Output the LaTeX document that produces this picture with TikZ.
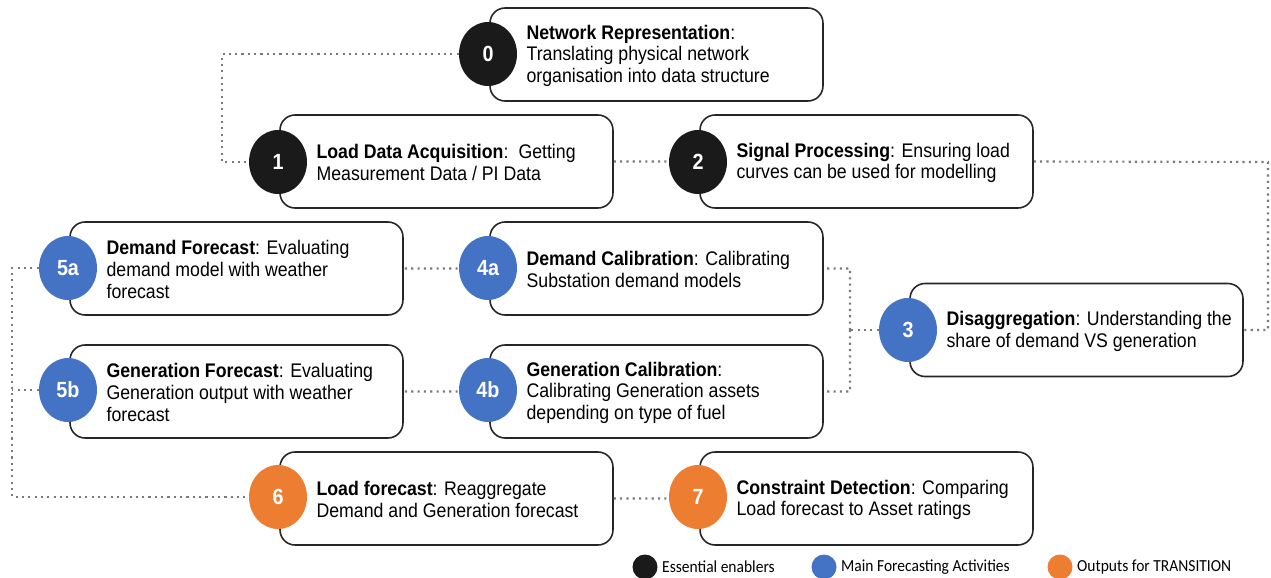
\documentclass[tikz,border=0pt]{standalone}
\usepackage{fontspec}
\setmainfont[FakeStretch=0.9]{Liberation Sans}
\newfontfamily\legendfont[FakeStretch=0.92]{Carlito}
\usetikzlibrary{positioning,shapes.geometric}

\definecolor{enabler}{HTML}{1A1A1A}
\definecolor{mainact}{HTML}{4472C4}
\definecolor{outputs}{HTML}{ED7D31}
\definecolor{linkgray}{HTML}{7A7A7A}

\begin{document}
\begin{tikzpicture}[x=0.02cm,y=-0.02cm,
    stepbox/.style={draw=black!85,line width=0.9pt,rounded corners=0.3cm,
        minimum width=6.66cm,minimum height=1.86cm,fill=white},
    num/.style={ellipse,minimum width=1.16cm,minimum height=1.28cm,inner sep=0pt,
        text=white,font=\fontsize{12.5}{12.5}\selectfont\bfseries},
    desc/.style={anchor=west,align=left,inner sep=0pt,yshift=-0.8pt,
        font=\fontsize{11.2}{12.5}\selectfont},
    link/.style={draw=linkgray,line width=1.2pt,dash pattern=on 1.2pt off 2.4pt},
    legdot/.style={circle,minimum size=0.5cm,inner sep=0pt},
    legtext/.style={anchor=west,inner sep=0pt,font=\legendfont\fontsize{9.6}{9.6}\selectfont}]

\useasboundingbox (0,0) rectangle (1271,578);

% corners of the dotted links
\coordinate (k0) at (222,54);
\coordinate (k2) at (1268,162);
\coordinate (k3) at (850,330);
\coordinate (k5) at (12,268);
\coordinate (k5b) at (12,390);

% boxes
\node[stepbox] (b0) at (656.5,54.5) {};
\node[stepbox] (b1) at (446.5,161.5) {};
\node[stepbox] (b2) at (866.5,161.5) {};
\node[stepbox] (b5a) at (236.5,268.5) {};
\node[stepbox] (b4a) at (656.5,268.5) {};
\node[stepbox] (b3) at (1076.5,330) {};
\node[stepbox] (b5b) at (236.5,391.5) {};
\node[stepbox] (b4b) at (656.5,391.5) {};
\node[stepbox] (b6) at (446.5,498.5) {};
\node[stepbox] (b7) at (866.5,498.5) {};

% links
\path[link]
    (b1.east) -- (b2.west)
    (b6.east) -- (b7.west)
    (b2.east) -- (k2) |- (b3.east)
    (k3) |- (b4a.east)
    (k3) |- (b4b.east)
    (b4a.west) -- (b5a.east)
    (b4b.west) -- (b5b.east)
;

% circles
\node[num,fill=enabler] (c0) at (488,54) {0};
\node[num,fill=enabler] (c1) at (278,162) {1};
\node[num,fill=enabler] (c2) at (698,162) {2};
\node[num,fill=mainact] (c3) at (908,330) {3};
\node[num,fill=mainact] (c4a) at (488,268) {4a};
\node[num,fill=mainact] (c4b) at (488,390) {4b};
\node[num,fill=mainact] (c5a) at (68,268) {5a};
\node[num,fill=mainact] (c5b) at (68,390) {5b};
\node[num,fill=outputs] (c6) at (278,497) {6};
\node[num,fill=outputs] (c7) at (698,497) {7};

\path[link]
    (c0.west) -- (k0) |- (c1.west)
    (c3.west) -- (k3)
    (c5a.west) -- (k5) |- (c6.west)
    (c5b.west) -- (k5b)
;

% texts
\node[desc,right=0.74cm of b0.west] {\textbf{Network Representation}:\\Translating physical network\\organisation into data structure};
\node[desc,right=0.74cm of b1.west] {\textbf{Load Data Acquisition}:\hspace{2pt} Getting\\Measurement Data / PI Data};
\node[desc,right=0.74cm of b2.west] {\textbf{Signal Processing}: Ensuring load\\curves can be used for modelling};
\node[desc,right=0.74cm of b5a.west] {\textbf{Demand Forecast}: Evaluating\\demand model with weather\\forecast};
\node[desc,right=0.74cm of b4a.west] {\textbf{Demand Calibration}: Calibrating\\Substation demand models};
\node[desc,right=0.74cm of b3.west] {\textbf{Disaggregation}: Understanding the\\share of demand VS generation};
\node[desc,right=0.74cm of b5b.west] {\textbf{Generation Forecast}: Evaluating\\Generation output with weather\\forecast};
\node[desc,right=0.74cm of b4b.west] {\textbf{Generation Calibration}:\\Calibrating Generation assets\\depending on type of fuel};
\node[desc,right=0.74cm of b6.west] {\textbf{Load forecast}: Reaggregate\\Demand and Generation forecast};
\node[desc,right=0.74cm of b7.west] {\textbf{Constraint Detection}: Comparing\\Load forecast to Asset ratings};

% legend
\node[legdot,fill=enabler] (l0) at (645,567) {};
\node[legtext,right=0.08cm of l0] {Essential enablers};
\node[legdot,fill=mainact] (l1) at (824,567) {};
\node[legtext,right=0.08cm of l1] {Main Forecasting Activities};
\node[legdot,fill=outputs] (l2) at (1060,567) {};
\node[legtext,right=0.08cm of l2] {Outputs for TRANSITION};

\end{tikzpicture}
\end{document}
